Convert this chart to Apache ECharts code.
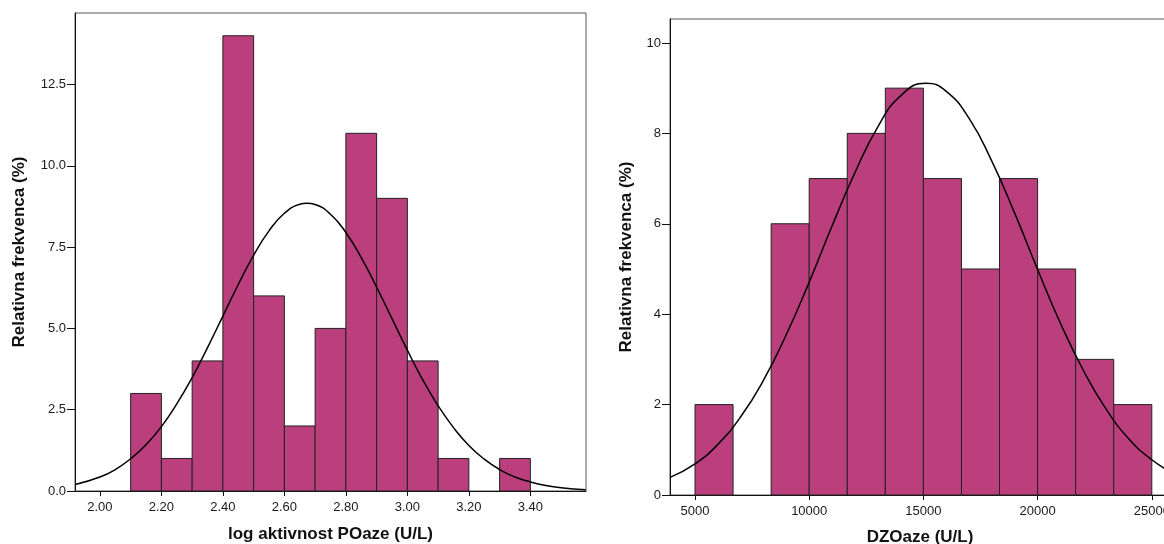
<!DOCTYPE html>
<html>
<head>
<meta charset="utf-8">
<script src="https://cdn.jsdelivr.net/npm/echarts@6/dist/echarts.min.js"></script>
<style>
html,body{margin:0;padding:0;background:#fff;}
#chart{width:1164px;height:544px;}
</style>
</head>
<body>
<div id="chart"></div>
<script>
// ---------- Left histogram: log aktivnost POaze ----------
const leftBinStart = [2.10, 2.20, 2.30, 2.40, 2.50, 2.60, 2.70, 2.80, 2.90, 3.00, 3.10, 3.30];
const leftBinEnd   = [2.20, 2.30, 2.40, 2.50, 2.60, 2.70, 2.80, 2.90, 3.00, 3.10, 3.20, 3.40];
const leftValues   = [3, 1, 4, 14, 6, 2, 5, 11, 9, 4, 1, 1];
const leftCurveX = [1.92, 2.00, 2.05, 2.10, 2.15, 2.20, 2.25, 2.30, 2.35, 2.40, 2.45, 2.50, 2.55, 2.60, 2.65, 2.673, 2.70, 2.75, 2.80, 2.85, 2.90, 2.95, 3.00, 3.05, 3.10, 3.15, 3.20, 3.25, 3.30, 3.35, 3.40, 3.45, 3.50, 3.58];
const leftCurveY = [0.20, 0.43, 0.66, 0.99, 1.42, 1.98, 2.68, 3.49, 4.41, 5.38, 6.35, 7.25, 8.00, 8.54, 8.82, 8.85, 8.81, 8.51, 7.95, 7.18, 6.27, 5.30, 4.33, 3.42, 2.62, 1.95, 1.40, 0.98, 0.66, 0.43, 0.28, 0.17, 0.10, 0.04];
const leftXTicks = [2.00, 2.20, 2.40, 2.60, 2.80, 3.00, 3.20, 3.40];
const leftYTicks = [0, 2.5, 5.0, 7.5, 10.0, 12.5];

// ---------- Right histogram: DZOaze ----------
const rightBinStart = [5000, 8333.3, 10000, 11666.7, 13333.3, 15000, 16666.7, 18333.3, 20000, 21666.7, 23333.3];
const rightBinEnd   = [6666.7, 10000, 11666.7, 13333.3, 15000, 16666.7, 18333.3, 20000, 21666.7, 23333.3, 25000];
const rightValues   = [2, 6, 7, 8, 9, 7, 5, 7, 5, 3, 2];
const rightCurveX = [3905, 5000, 6000, 7000, 8000, 9000, 10000, 11000, 12000, 13000, 14000, 15114, 16000, 17000, 18000, 19000, 20000, 21000, 22000, 23000, 24000, 25000, 26000];
const rightCurveY = [0.39, 0.69, 1.12, 1.73, 2.54, 3.55, 4.71, 5.95, 7.13, 8.14, 8.83, 9.11, 8.93, 8.33, 7.38, 6.23, 4.99, 3.80, 2.76, 1.90, 1.24, 0.78, 0.46];
const rightXTicks = [5000, 10000, 15000, 20000, 25000];
const rightYTicks = [0, 2, 4, 6, 8, 10];

const FONT = '"Liberation Sans", Arial, sans-serif';
const BAR_FILL = '#BA3F7C';
const BAR_STROKE = '#222222';

function zip3(a, b, c) { return a.map((v, i) => [v, b[i], c[i]]); }
function zip2(a, b) { return a.map((v, i) => [v, b[i]]); }

function barRender(params, api) {
  const s = api.value(0), e = api.value(1), v = api.value(2);
  const p0 = api.coord([s, 0]);
  const p1 = api.coord([e, v]);
  return {
    type: 'rect',
    shape: { x: p0[0], y: p1[1], width: p1[0] - p0[0], height: p0[1] - p1[1] },
    style: { fill: BAR_FILL, stroke: BAR_STROKE, lineWidth: 1 }
  };
}

function xAxisCfg(idx, min, max, ticks, fmt, name, gap) {
  return {
    type: 'value', gridIndex: idx, min: min, max: max,
    name: name, nameLocation: 'middle', nameGap: gap,
    nameTextStyle: { fontFamily: FONT, fontSize: 17, fontWeight: 'bold', color: '#111' },
    axisLine: { show: true, onZero: false, lineStyle: { color: '#111', width: 1 } },
    axisTick: { show: true, inside: false, length: 5, lineStyle: { color: '#111' }, customValues: ticks },
    axisLabel: { fontFamily: FONT, fontSize: 13, color: '#1a1a1a', margin: 10, formatter: fmt, customValues: ticks, showMinLabel: true, showMaxLabel: true },
    splitLine: { show: false }
  };
}
function yAxisCfg(idx, min, max, ticks, fmt, name, gap) {
  return {
    type: 'value', gridIndex: idx, min: min, max: max,
    name: name, nameLocation: 'middle', nameGap: gap,
    nameTextStyle: { fontFamily: FONT, fontSize: 17, fontWeight: 'bold', color: '#111' },
    axisLine: { show: true, onZero: false, lineStyle: { color: '#111', width: 1 } },
    axisTick: { show: true, inside: false, length: 8, lineStyle: { color: '#111' }, customValues: ticks },
    axisLabel: { fontFamily: FONT, fontSize: 13, color: '#1a1a1a', margin: 9, formatter: fmt, customValues: ticks },
    splitLine: { show: false }
  };
}

const chart = echarts.init(document.getElementById('chart'), null, { renderer: 'canvas' });
chart.setOption({
  animation: false,
  backgroundColor: '#fff',
  grid: [
    { left: 75, top: 13, width: 511, height: 478, show: true, borderColor: '#555', borderWidth: 1, backgroundColor: 'transparent', outerBoundsMode: 'none', containLabel: false },
    { left: 670, top: 19, width: 500, height: 476, show: true, borderColor: '#555', borderWidth: 1, backgroundColor: 'transparent', outerBoundsMode: 'none', containLabel: false }
  ],
  xAxis: [
    xAxisCfg(0, 1.919, 3.581, leftXTicks, v => v.toFixed(2), 'log aktivnost POaze (U/L)', 35),
    xAxisCfg(1, 3905, 25797, rightXTicks, v => String(Math.round(v)), 'DZOaze (U/L)', 34)
  ],
  yAxis: [
    yAxisCfg(0, 0, 14.7, leftYTicks, v => v.toFixed(1), 'Relativna frekvenca (%)', 47),
    yAxisCfg(1, 0, 10.53, rightYTicks, v => String(v), 'Relativna frekvenca (%)', 35)
  ],
  series: [
    { type: 'custom', xAxisIndex: 0, yAxisIndex: 0, renderItem: barRender, encode: { x: [0, 1], y: 2 }, data: zip3(leftBinStart, leftBinEnd, leftValues), z: 2 },
    { type: 'line', xAxisIndex: 0, yAxisIndex: 0, data: zip2(leftCurveX, leftCurveY), smooth: true, showSymbol: false, clip: true, lineStyle: { color: '#000', width: 1.5 }, z: 3 },
    { type: 'custom', xAxisIndex: 1, yAxisIndex: 1, renderItem: barRender, encode: { x: [0, 1], y: 2 }, data: zip3(rightBinStart, rightBinEnd, rightValues), z: 2 },
    { type: 'line', xAxisIndex: 1, yAxisIndex: 1, data: zip2(rightCurveX, rightCurveY), smooth: true, showSymbol: false, clip: true, lineStyle: { color: '#000', width: 1.5 }, z: 3 }
  ]
});
</script>
</body>
</html>
